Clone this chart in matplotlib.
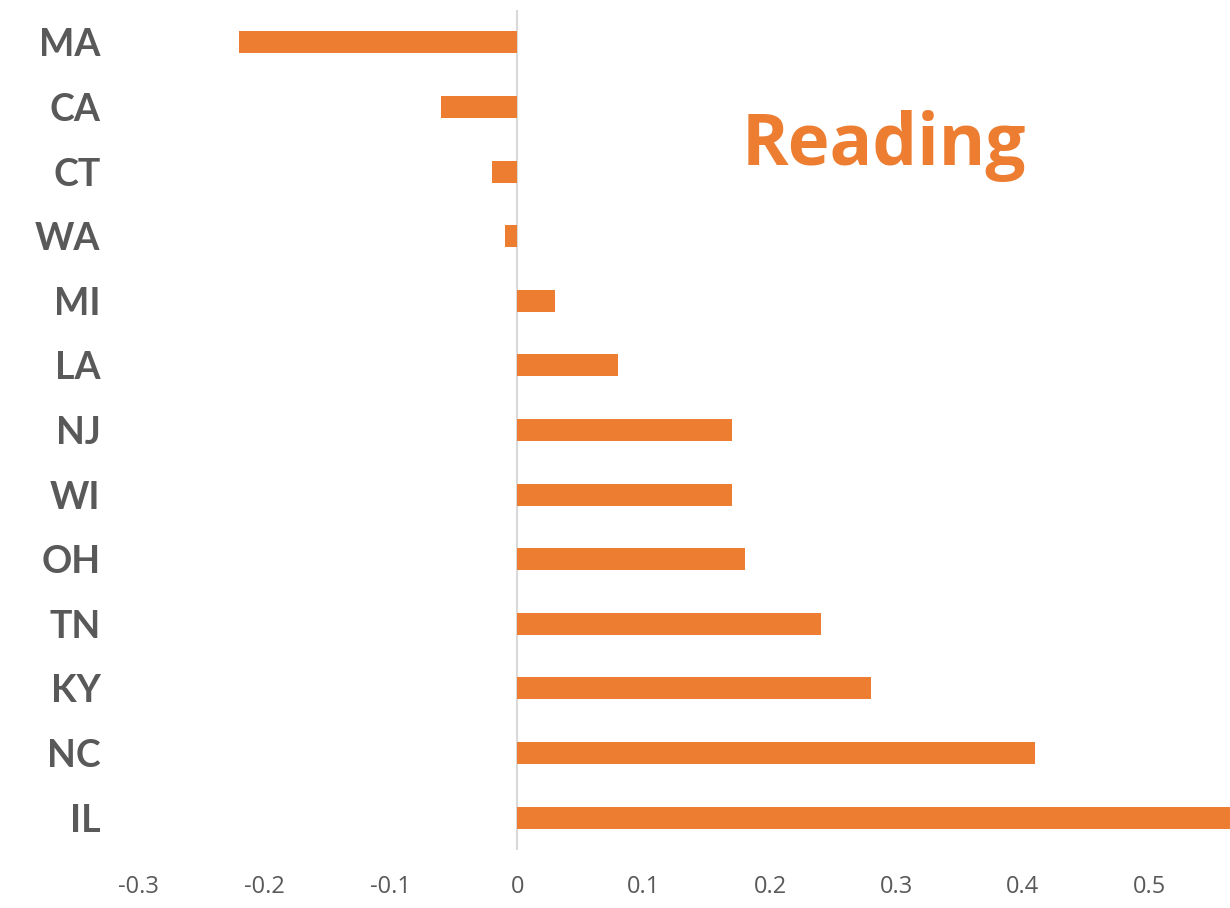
import matplotlib.pyplot as plt
import numpy as np

states = ["MA", "CA", "CT", "WA", "MI", "LA", "NJ", "WI", "OH", "TN", "KY", "NC", "IL"]
change = [-0.22, -0.06, -0.02, -0.01, 0.03, 0.08, 0.17, 0.17, 0.18, 0.24, 0.28, 0.41, 0.57]
xticks = [-0.3, -0.2, -0.1, 0, 0.1, 0.2, 0.3, 0.4, 0.5]
xlabels = ["-0.3", "-0.2", "-0.1", "0", "0.1", "0.2", "0.3", "0.4", "0.5"]

orange = "#ED7D31"
grey = "#595959"

fig = plt.figure(figsize=(12.3, 9.08), dpi=100)
ax = fig.add_axes([138 / 1230, 58 / 908, 1 - 138 / 1230, 840 / 908])

y = np.arange(len(states))
ax.barh(y, change, height=0.34, color=orange, zorder=2)
ax.axvline(0, color="#d9d9d9", lw=1.5, zorder=1)

ax.set_ylim(len(states) - 0.5, -0.5)
ax.set_xlim(-0.3, 0.564)
ax.set_yticks(y)
ax.set_yticklabels(states, fontsize=27, fontweight="bold", color=grey, family="Lato")
ax.set_xticks(xticks)
ax.set_xticklabels(xlabels, fontsize=17, color=grey, family="Open Sans")
ax.tick_params(axis="y", length=0, pad=27)
ax.tick_params(axis="x", length=0, pad=18)
for s in ax.spines.values():
    s.set_visible(False)

ax.text(0.29, 1.6, "Reading", fontsize=51, fontweight="bold", color=orange,
        family="Open Sans", ha="center", va="center")

fig.savefig("out.png", dpi=100)
